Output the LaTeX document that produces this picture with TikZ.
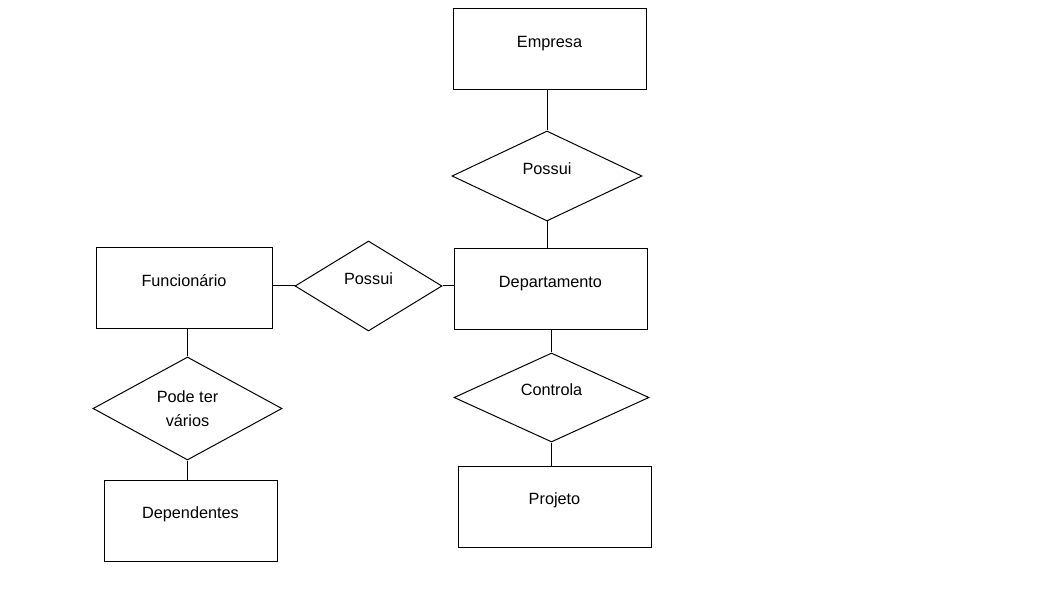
\documentclass[tikz,border=0pt]{standalone}
\usepackage{fontspec}
\setmainfont{Liberation Sans}
\usetikzlibrary{shapes.geometric}

\begin{document}
\begin{tikzpicture}[x=.75pt, y=-.75pt, line width=.75pt,
        every node/.style={font=\fontsize{12.2}{18}\selectfont},
        entidade/.style={draw, rectangle, minimum height=60.75pt, text height=8.5pt, text depth=11pt},
        relacao/.style={draw, diamond, inner sep=0pt, text height=8.5pt, text depth=11pt}]
            \useasboundingbox (0,0) rectangle (1038,609);

            \node[entidade, minimum width=144.75pt] (empresa) at (549.5, 49.5) {Empresa};
            \node[relacao, minimum width=142.5pt, minimum height=67.5pt] (possuiA) at (547, 176) {Possui};
            \node[entidade, minimum width=144.75pt] (depto) at (550.5, 289.5) {Departamento};
            \node[relacao, minimum width=110.25pt, minimum height=67.5pt] (possuiB) at (368.5, 286) {Possui};
            \node[entidade, minimum width=132pt] (func) at (184, 288.5) {Funcionário};
            \node[relacao, minimum width=141.75pt, minimum height=77.25pt, text height=, text depth=, align=center] (podeter) at (187.5, 408.5) {Pode ter\\vários};
            \node[entidade, minimum width=129.75pt] (dep) at (190.5, 520.5) {Dependentes};
            \node[relacao, minimum width=146.25pt, minimum height=66.75pt] (controla) at (551.5, 397.5) {Controla};
            \node[entidade, minimum width=144.75pt] (projeto) at (554.5, 506.5) {Projeto};

            \draw (possuiA.north) -- (possuiA.north |- empresa.south);
            \draw (possuiA.south) -- (possuiA.south |- depto.north);
            \draw (func.east |- possuiB.west) -- (possuiB.west);
            \draw (possuiB.east) -- (possuiB.east -| depto.west);
            \draw (podeter.north) -- (podeter.north |- func.south);
            \draw (podeter.south) -- (podeter.south |- dep.north);
            \draw (controla.north) -- (controla.north |- depto.south);
            \draw (controla.south) -- (controla.south |- projeto.north);
        \end{tikzpicture}
\end{document}
